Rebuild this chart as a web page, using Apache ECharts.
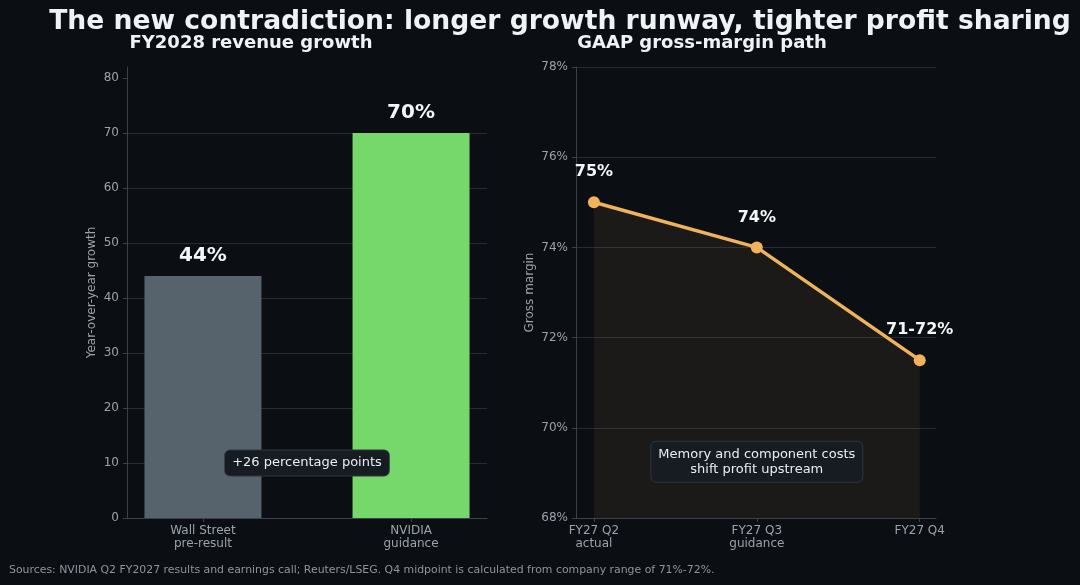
<!DOCTYPE html>
<html>
<head>
<meta charset="utf-8">
<script src="https://cdn.jsdelivr.net/npm/echarts@6/dist/echarts.min.js"></script>
<style>
  html, body { margin: 0; padding: 0; background: #0b0f14; }
  #chart { width: 1080px; height: 585px; }
</style>
</head>
<body>
<div id="chart"></div>
<script>
// left panel: FY2028 revenue growth
var growthCats = ['Wall Street\npre-result', 'NVIDIA\nguidance'];
var growthVals = [44, 70];
var growthLabels = ['44%', '70%'];
var growthColors = ['#56636c', '#76d86b'];
var growthTicks = [0, 10, 20, 30, 40, 50, 60, 70, 80];

// right panel: GAAP gross-margin path
var marginCats = ['FY27 Q2\nactual', 'FY27 Q3\nguidance', 'FY27 Q4'];
var marginVals = [75, 74, 71.5];
var marginLabels = ['75%', '74%', '71-72%'];

var FONT = 'DejaVu Sans';
var AXIS_TXT = '#9ba2aa';
var GRID_LINE = '#272c33';
var AXIS_LINE = '#3b4149';

var chart = echarts.init(document.getElementById('chart'));

var option = {
    backgroundColor: '#0b0f14',
    textStyle: { fontFamily: FONT },
    title: [{
        text: 'The new contradiction: longer growth runway, tighter profit sharing',
        left: 555, top: 4, textAlign: 'center',
        textStyle: { color: '#f0f3f6', fontSize: 26.6, fontWeight: 'bold', fontFamily: FONT }
    }, {
        text: 'FY2028 revenue growth',
        left: 246, top: 29, textAlign: 'center',
        textStyle: { color: '#f0f3f6', fontSize: 18, fontWeight: 'bold', fontFamily: FONT }
    }, {
        text: 'GAAP gross-margin path',
        left: 697, top: 29, textAlign: 'center',
        textStyle: { color: '#f0f3f6', fontSize: 18, fontWeight: 'bold', fontFamily: FONT }
    }, {
        text: 'Sources: NVIDIA Q2 FY2027 results and earnings call; Reuters/LSEG. Q4 midpoint is calculated from company range of 71%-72%.',
        left: 4, top: 560,
        textStyle: { color: '#8d949c', fontSize: 10.9, fontWeight: 'normal', fontFamily: FONT }
    }],
    grid: [
        { left: 127, right: 593, top: 67, bottom: 67 },
        { left: 576, right: 144, top: 67, bottom: 67 }
    ],
    xAxis: [{
        gridIndex: 0, type: 'value', min: -0.365, max: 1.365,
        splitLine: { show: false },
        axisLine: { show: true, onZero: false, lineStyle: { color: AXIS_LINE } },
        axisTick: { show: true, customValues: [0, 1], length: 4, lineStyle: { color: AXIS_LINE } },
        axisLabel: {
            customValues: [0, 1], color: AXIS_TXT, fontSize: 12, lineHeight: 13, margin: 6,
            formatter: function (v) { return growthCats[Math.round(v)]; }
        }
    }, {
        gridIndex: 1, type: 'value', min: -0.11, max: 2.1,
        splitLine: { show: false },
        axisLine: { show: true, onZero: false, lineStyle: { color: AXIS_LINE } },
        axisTick: { show: true, customValues: [0, 1, 2], length: 4, lineStyle: { color: AXIS_LINE } },
        axisLabel: {
            customValues: [0, 1, 2], color: AXIS_TXT, fontSize: 12, lineHeight: 13, margin: 6,
            formatter: function (v) { return marginCats[Math.round(v)]; }
        }
    }],
    yAxis: [{
        gridIndex: 0, type: 'value', min: 0, max: 82, interval: 10,
        name: 'Year-over-year growth', nameLocation: 'middle', nameGap: 29,
        nameTextStyle: { color: AXIS_TXT, fontSize: 12 },
        axisLine: { show: true, onZero: false, lineStyle: { color: AXIS_LINE } },
        axisTick: { show: true, customValues: growthTicks, length: 4, lineStyle: { color: AXIS_LINE } },
        axisLabel: { customValues: growthTicks, color: AXIS_TXT, fontSize: 12, margin: 8 },
        splitLine: { show: true, showMaxLine: false, lineStyle: { color: GRID_LINE } }
    }, {
        gridIndex: 1, type: 'value', min: 68, max: 78, interval: 2,
        name: 'Gross margin', nameLocation: 'middle', nameGap: 40,
        nameTextStyle: { color: AXIS_TXT, fontSize: 12 },
        axisLine: { show: true, onZero: false, lineStyle: { color: AXIS_LINE } },
        axisTick: { show: true, length: 4, lineStyle: { color: AXIS_LINE } },
        axisLabel: { color: AXIS_TXT, fontSize: 12, margin: 8, formatter: '{value}%' },
        splitLine: { show: true, lineStyle: { color: GRID_LINE } }
    }],
    series: [{
        type: 'bar', xAxisIndex: 0, yAxisIndex: 0, barWidth: 117,
        data: growthVals.map(function (v, i) {
            return { value: [i, v], itemStyle: { color: growthColors[i] } };
        }),
        label: {
            show: true, position: 'top', distance: 10,
            color: '#f4f6f8', fontSize: 20, fontWeight: 'bold',
            formatter: function (p) { return growthLabels[p.dataIndex]; }
        }
    }, {
        type: 'line', xAxisIndex: 1, yAxisIndex: 1,
        data: marginVals.map(function (v, i) { return [i, v]; }),
        symbol: 'circle', symbolSize: 12,
        lineStyle: { color: '#f0b35c', width: 3.5 },
        itemStyle: { color: '#f0b35c' },
        areaStyle: { origin: 'start', color: 'rgba(240,179,92,0.10)' },
        label: {
            show: true, position: 'top', distance: 16,
            color: '#f4f6f8', fontSize: 16, fontWeight: 'bold',
            formatter: function (p) { return marginLabels[p.dataIndex]; }
        },
        z: 3
    }]
};

chart.setOption(option);

// annotation boxes placed with the chart's own scales
var p1 = chart.convertToPixel({ xAxisIndex: 0, yAxisIndex: 0 }, [0.5, 10]);
var p2 = chart.convertToPixel({ xAxisIndex: 1, yAxisIndex: 1 }, [1, 69.25]);

function noteBox(pt, txt) {
    return {
        type: 'text', x: pt[0], y: pt[1], z: 10,
        style: {
            text: txt, align: 'center', verticalAlign: 'middle',
            fill: '#e8edf2', font: '13px "DejaVu Sans"', lineHeight: 15,
            backgroundColor: '#171c23', borderColor: '#2f363e', borderWidth: 1,
            borderRadius: 5, padding: [5, 7, 5, 7]
        }
    };
}

chart.setOption({
    graphic: [
        noteBox(p1, '+26 percentage points'),
        noteBox(p2, 'Memory and component costs\nshift profit upstream')
    ]
});
</script>
</body>
</html>
